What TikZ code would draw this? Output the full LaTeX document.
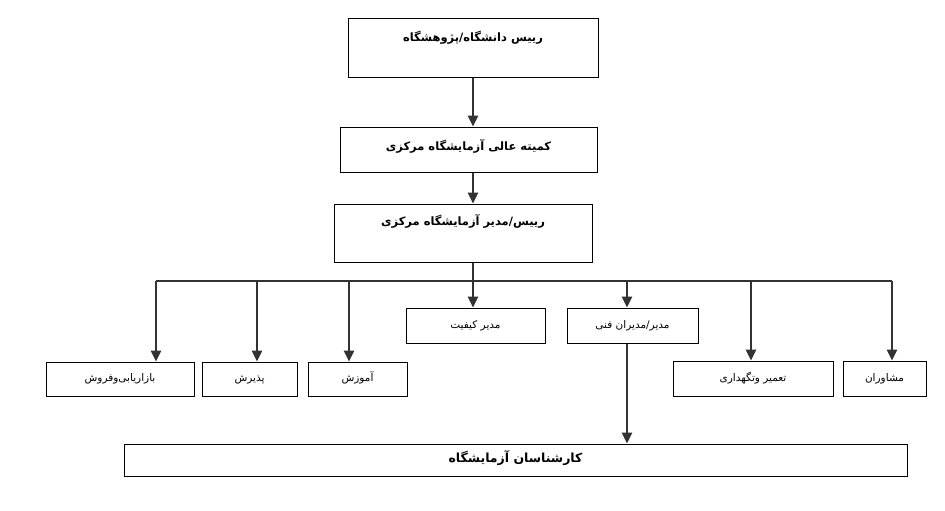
\documentclass[tikz,border=0pt]{standalone}
\usepackage{fontspec}
\newfontfamily\persianfont[Script=Arabic]{DejaVu Sans}
\TeXXeTstate=1
\usetikzlibrary{arrows.meta, positioning, calc}
\newcommand{\fatext}[1]{{\persianfont\beginR #1\endR}}

\begin{document}
\begin{tikzpicture}[x=1pt, y=-1pt,
        orgbox/.style={draw, line width=1pt, inner sep=0pt, text height=7pt, text depth=2pt,
            font=\fontsize{10.5}{12}\selectfont},
        topbox/.style={orgbox, font=\fontsize{11.5}{13}\selectfont\bfseries},
        link/.style={black!80, line width=1.3pt},
        arr/.style={link, -{Triangle[width=10.5pt, length=11pt]}}]
        \useasboundingbox (0,0) rectangle (945,511);

        % Top levels
        \node[topbox, minimum width=250pt, text height=23pt, text depth=36pt] (boss) at (473,48.5)
            {\fatext{رییس دانشگاه/پژوهشگاه}};
        \node[topbox, minimum width=257pt, text height=23pt, text depth=22pt] (committee) at (468.5,149.5)
            {\fatext{کمیته عالی آزمایشگاه مرکزی}};
        \node[topbox, minimum width=258pt, text height=21pt, text depth=37pt] (head) at (463,233)
            {\fatext{رییس/مدیر آزمایشگاه مرکزی}};

        % Units
        \node[orgbox, minimum width=148pt, minimum height=34pt] (sales) at (120,379) {\fatext{بازاریابی‌وفروش}};
        \node[orgbox, minimum width=95pt, minimum height=34pt] (admission) at (249.5,379) {\fatext{پذیرش}};
        \node[orgbox, minimum width=99pt, minimum height=34pt] (training) at (357.5,379) {\fatext{آموزش}};
        \node[orgbox, minimum width=139pt, minimum height=35pt] (quality) at (475.5,325.5) {\fatext{مدیر کیفیت}};
        \node[orgbox, minimum width=131pt, minimum height=35pt] (technical) at (632.5,325.5) {\fatext{مدیر/مدیران فنی}};
        \node[orgbox, minimum width=160pt, minimum height=35pt] (maint) at (753,378.5) {\fatext{تعمیر وتگهداری}};
        \node[orgbox, minimum width=83pt, minimum height=35pt] (advisors) at (884.5,378.5) {\fatext{مشاوران}};

        % Staff
        \node[topbox, minimum width=783pt, minimum height=32pt, font=\fontsize{12.5}{14}\selectfont\bfseries]
            (experts) at (515.5,460) {\fatext{کارشناسان آزمایشگاه}};

        % Arrows
        \draw[arr] (boss.south) -- (boss.south |- committee.north);
        \draw[arr] (committee.south -| boss.south) -- (head.north -| boss.south);
        \coordinate (bus) at (473,281);
        \draw[link] (head.south -| bus) -- (bus);
        \foreach \unit/\tx in {sales/156, admission/257, training/349, quality/473,
            technical/627, maint/751, advisors/892}{
            \coordinate (tap-\unit) at (\tx,281);
            \draw[arr] (tap-\unit) -- (tap-\unit |- \unit.north);
        }
        \draw[link] (tap-sales) -- (tap-advisors);
        \draw[arr] (tap-technical |- technical.south) -- (tap-technical |- experts.north);
    \end{tikzpicture}
\end{document}
